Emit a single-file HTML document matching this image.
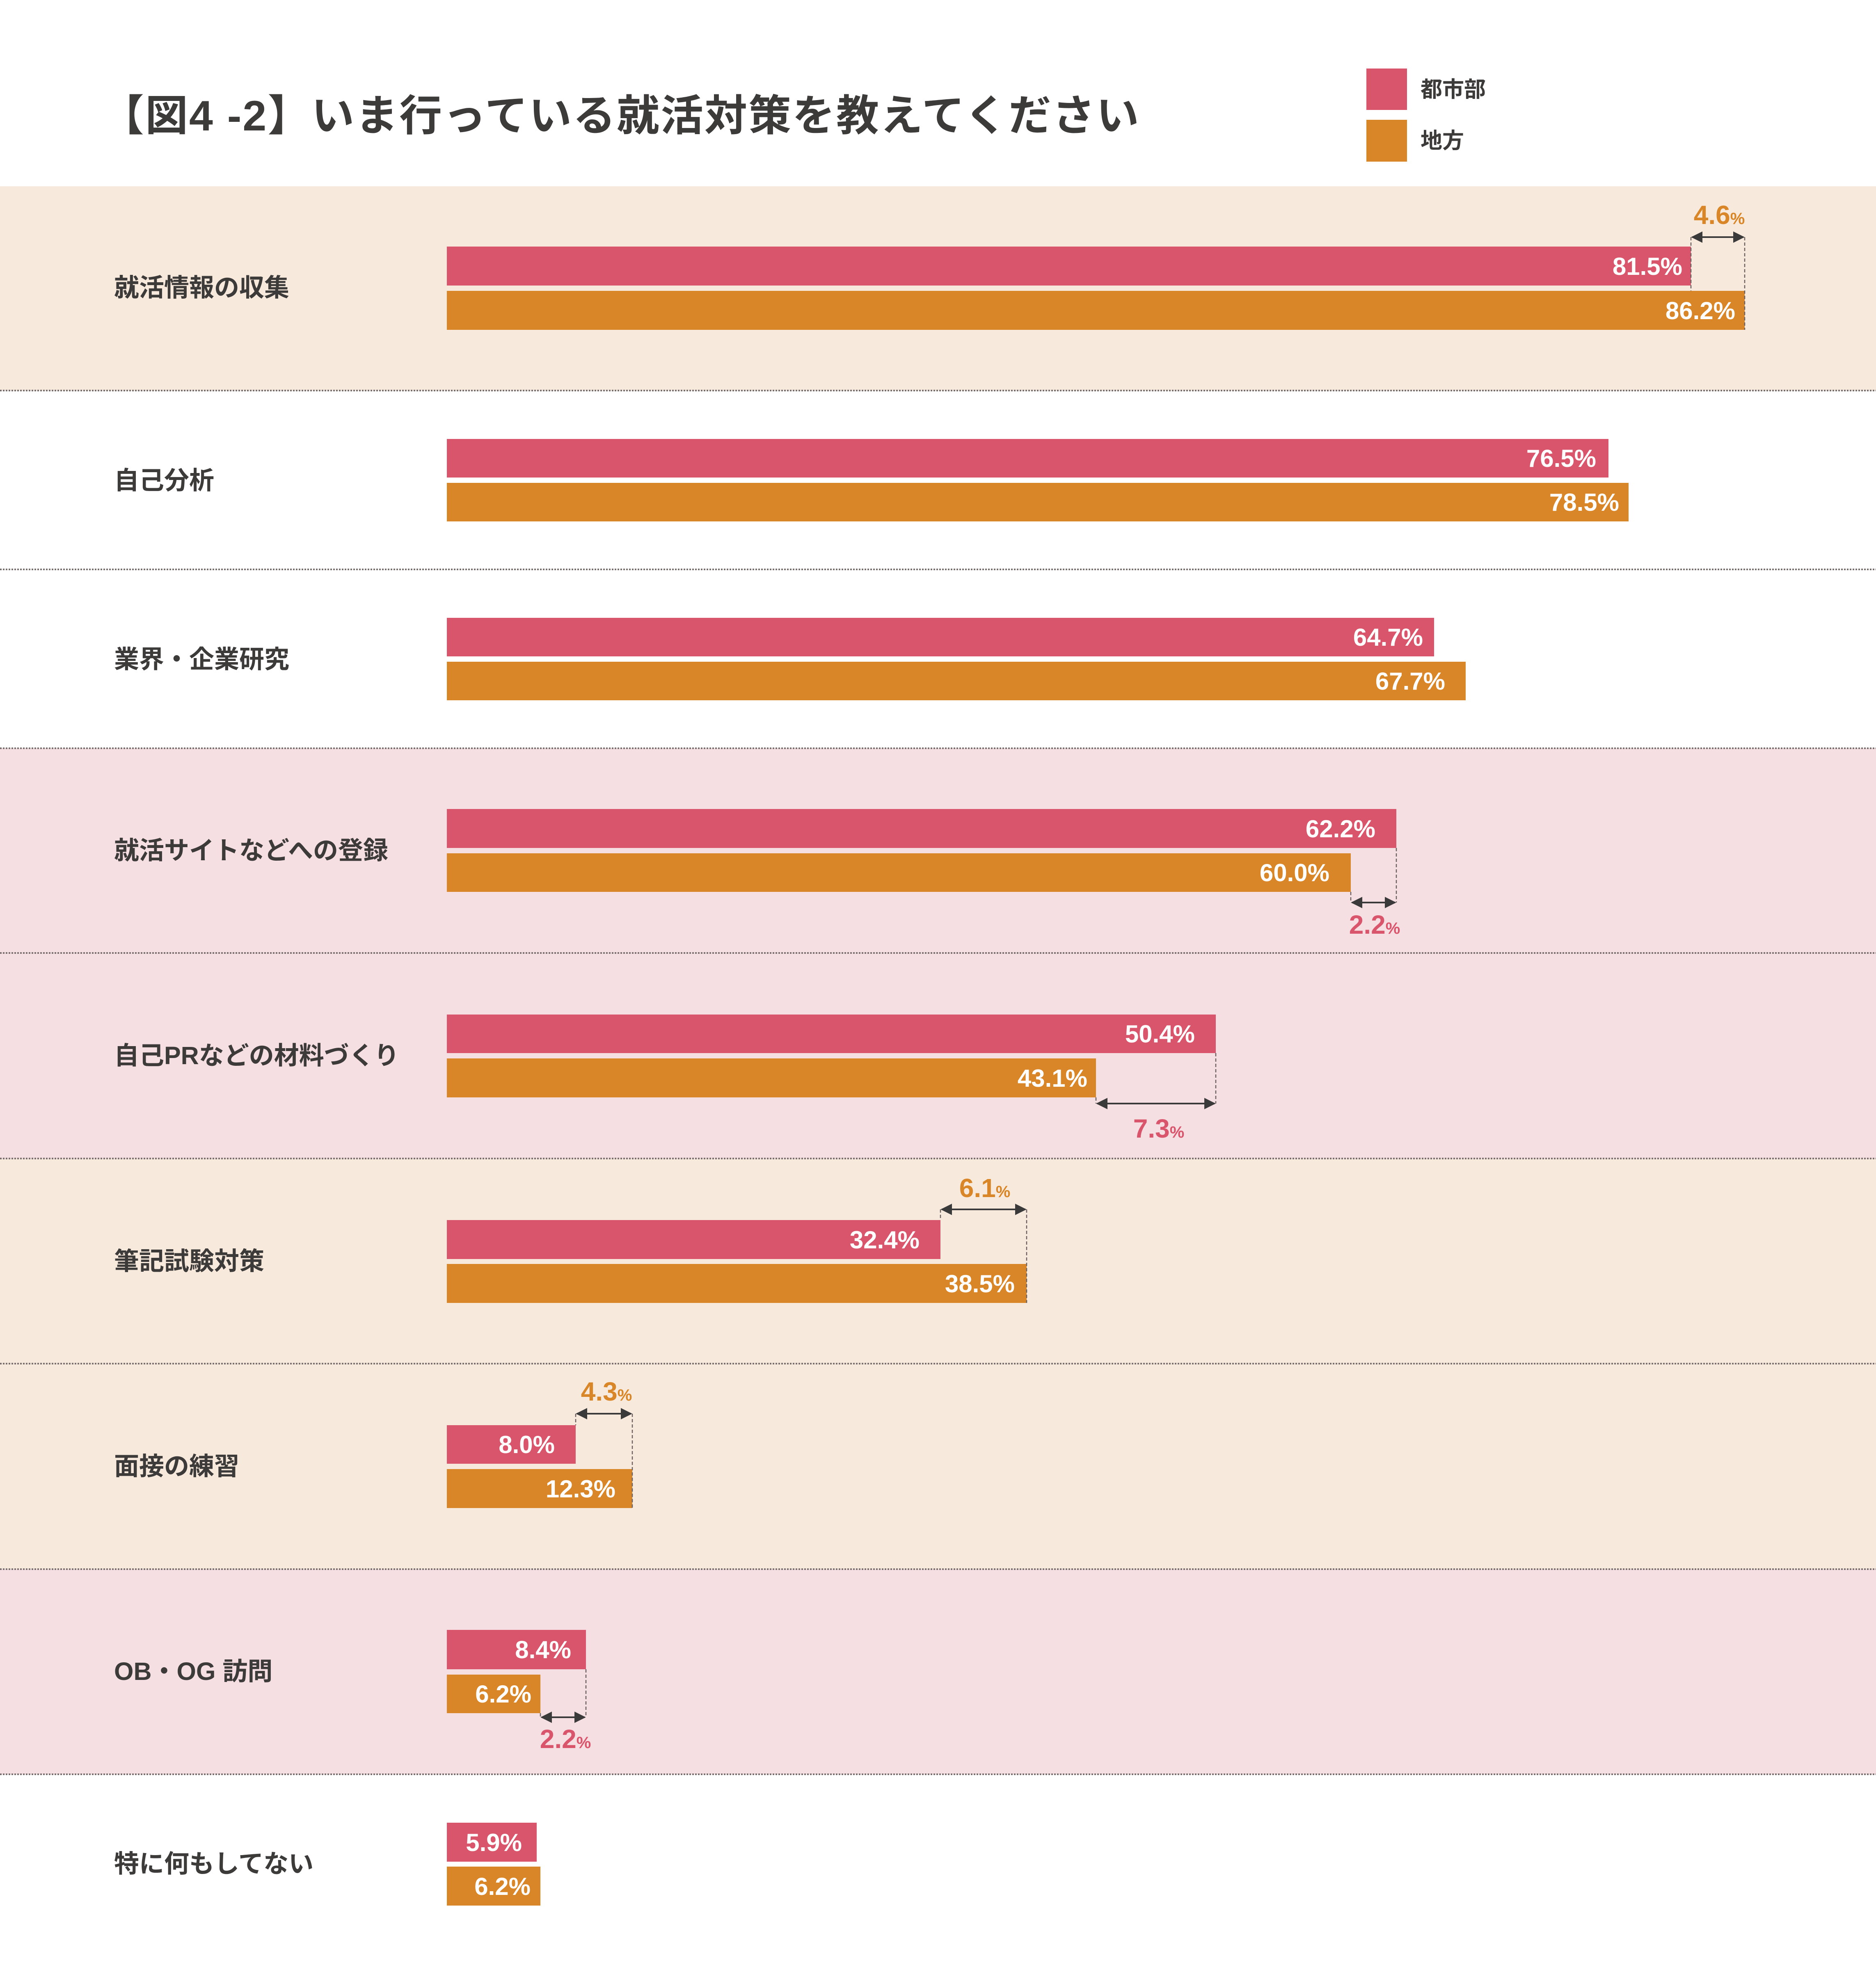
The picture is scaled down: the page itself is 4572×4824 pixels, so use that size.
<!DOCTYPE html>
<html><head><meta charset="utf-8"><style>
html,body{margin:0;padding:0;background:#fff;}
svg{display:block;}
.lab{font-family:"Liberation Sans","Noto Sans CJK JP",sans-serif;font-weight:bold;font-size:61px;fill:#3d3a3a;}
.val{font-family:"Liberation Sans",sans-serif;font-weight:bold;font-size:60px;fill:#fff;}
.dr{font-family:"Liberation Sans",sans-serif;font-weight:bold;font-size:64px;fill:#d9556c;}
.do{font-family:"Liberation Sans",sans-serif;font-weight:bold;font-size:64px;fill:#d98628;}
.pc{font-size:40px;}
</style></head><body>
<svg width="4572" height="4824" viewBox="0 0 4572 4824" xmlns="http://www.w3.org/2000/svg">
<defs>
<marker id="a" viewBox="0 0 10 10" refX="9" refY="5" markerWidth="7" markerHeight="7" orient="auto-start-reverse"><path d="M0,0 L10,5 L0,10 z" fill="#3a3a3a"/></marker>
</defs>
<rect width="4572" height="4824" fill="#fff"/>
<text x="247" y="318" font-family="'Liberation Sans','Noto Sans CJK JP',sans-serif" font-weight="bold" font-size="104" fill="#3d3a3a" letter-spacing="3">【図4 -2】いま行っている就活対策を教えてください</text>
<rect x="3330" y="167" width="99" height="101" fill="#d9556c"/>
<rect x="3330" y="292" width="99" height="102" fill="#d98628"/>
<text x="3462" y="236" class="lab" style="font-size:53px">都市部</text>
<text x="3462" y="361" class="lab" style="font-size:53px">地方</text>
<rect x="0" y="454" width="4572" height="498" fill="#f7e9db"/>
<rect x="0" y="1824" width="4572" height="1000" fill="#f6dfe2"/>
<rect x="0" y="2824" width="4572" height="1001" fill="#f7e9db"/>
<rect x="0" y="3825" width="4572" height="500" fill="#f6dfe2"/>
<g stroke="#7a7070" stroke-width="4" stroke-dasharray="4,3">
<line x1="0" y1="952" x2="4572" y2="952"/>
<line x1="0" y1="1388" x2="4572" y2="1388"/>
<line x1="0" y1="1824" x2="4572" y2="1824"/>
<line x1="0" y1="2323" x2="4572" y2="2323"/>
<line x1="0" y1="2824" x2="4572" y2="2824"/>
<line x1="0" y1="3324" x2="4572" y2="3324"/>
<line x1="0" y1="3825" x2="4572" y2="3825"/>
<line x1="0" y1="4325" x2="4572" y2="4325"/>
</g>
<g class="lab">
<text x="278" y="722">就活情報の収集</text>
<text x="278" y="1192">自己分析</text>
<text x="278" y="1628">業界・企業研究</text>
<text x="278" y="2094">就活サイトなどへの登録</text>
<text x="278" y="2594">自己PRなどの材料づくり</text>
<text x="278" y="3095">筆記試験対策</text>
<text x="278" y="3595">面接の練習</text>
<text x="278" y="4095">OB・OG 訪問</text>
<text x="278" y="4564">特に何もしてない</text>
</g>
<g fill="#d9556c">
<rect x="1089" y="601" width="3032" height="95"/>
<rect x="1089" y="1070" width="2831" height="94"/>
<rect x="1089" y="1506" width="2406" height="94"/>
<rect x="1089" y="1972" width="2314" height="95"/>
<rect x="1089" y="2473" width="1874" height="94"/>
<rect x="1089" y="2974" width="1203" height="95"/>
<rect x="1089" y="3474" width="314" height="94"/>
<rect x="1089" y="3973" width="339" height="96"/>
<rect x="1089" y="4443" width="219" height="95"/>
</g>
<g fill="#d98628">
<rect x="1089" y="709" width="3163" height="95"/>
<rect x="1089" y="1177" width="2880" height="94"/>
<rect x="1089" y="1613" width="2483" height="94"/>
<rect x="1089" y="2080" width="2203" height="94"/>
<rect x="1089" y="2580" width="1582" height="95"/>
<rect x="1089" y="3081" width="1413" height="95"/>
<rect x="1089" y="3581" width="452" height="95"/>
<rect x="1089" y="4082" width="228" height="94"/>
<rect x="1089" y="4550" width="228" height="95"/>
</g>
<g class="val" text-anchor="end">
<text x="4100" y="670">81.5%</text>
<text x="4229" y="778">86.2%</text>
<text x="3890" y="1138">76.5%</text>
<text x="3946" y="1245">78.5%</text>
<text x="3468" y="1574">64.7%</text>
<text x="3522" y="1681">67.7%</text>
<text x="3352" y="2041">62.2%</text>
<text x="3240" y="2148">60.0%</text>
<text x="2912" y="2541">50.4%</text>
<text x="2650" y="2649">43.1%</text>
<text x="2241" y="3043">32.4%</text>
<text x="2473" y="3150">38.5%</text>
<text x="1352" y="3542">8.0%</text>
<text x="1500" y="3650">12.3%</text>
<text x="1392" y="4042">8.4%</text>
<text x="1295" y="4150">6.2%</text>
<text x="1272" y="4512">5.9%</text>
<text x="1293" y="4619">6.2%</text>
</g>
<g stroke="#6a6060" stroke-width="2.5" stroke-dasharray="8,5" fill="none">
<line x1="4121" y1="578" x2="4121" y2="709"/>
<line x1="4252" y1="578" x2="4252" y2="804"/>
<line x1="3403" y1="2067" x2="3403" y2="2200"/>
<line x1="3292" y1="2174" x2="3292" y2="2200"/>
<line x1="2963" y1="2567" x2="2963" y2="2690"/>
<line x1="2671" y1="2675" x2="2671" y2="2690"/>
<line x1="2292" y1="2948" x2="2292" y2="2974"/>
<line x1="2502" y1="2948" x2="2502" y2="3176"/>
<line x1="1403" y1="3446" x2="1403" y2="3474"/>
<line x1="1541" y1="3446" x2="1541" y2="3676"/>
<line x1="1428" y1="4069" x2="1428" y2="4186"/>
<line x1="1317" y1="4176" x2="1317" y2="4186"/>
</g>
<g stroke="#3a3a3a" stroke-width="4" marker-start="url(#a)" marker-end="url(#a)">
<line x1="4124" y1="578" x2="4249" y2="578"/>
<line x1="3295" y1="2200" x2="3400" y2="2200"/>
<line x1="2674" y1="2690" x2="2960" y2="2690"/>
<line x1="2295" y1="2948" x2="2499" y2="2948"/>
<line x1="1406" y1="3446" x2="1538" y2="3446"/>
<line x1="1320" y1="4186" x2="1425" y2="4186"/>
</g>
<text x="4190" y="546" text-anchor="middle" class="do">4.6<tspan class="pc">%</tspan></text>
<text x="3350" y="2276" text-anchor="middle" class="dr">2.2<tspan class="pc">%</tspan></text>
<text x="2824" y="2773" text-anchor="middle" class="dr">7.3<tspan class="pc">%</tspan></text>
<text x="2400" y="2918" text-anchor="middle" class="do">6.1<tspan class="pc">%</tspan></text>
<text x="1478" y="3414" text-anchor="middle" class="do">4.3<tspan class="pc">%</tspan></text>
<text x="1378" y="4261" text-anchor="middle" class="dr">2.2<tspan class="pc">%</tspan></text>
</svg>
</body></html>
